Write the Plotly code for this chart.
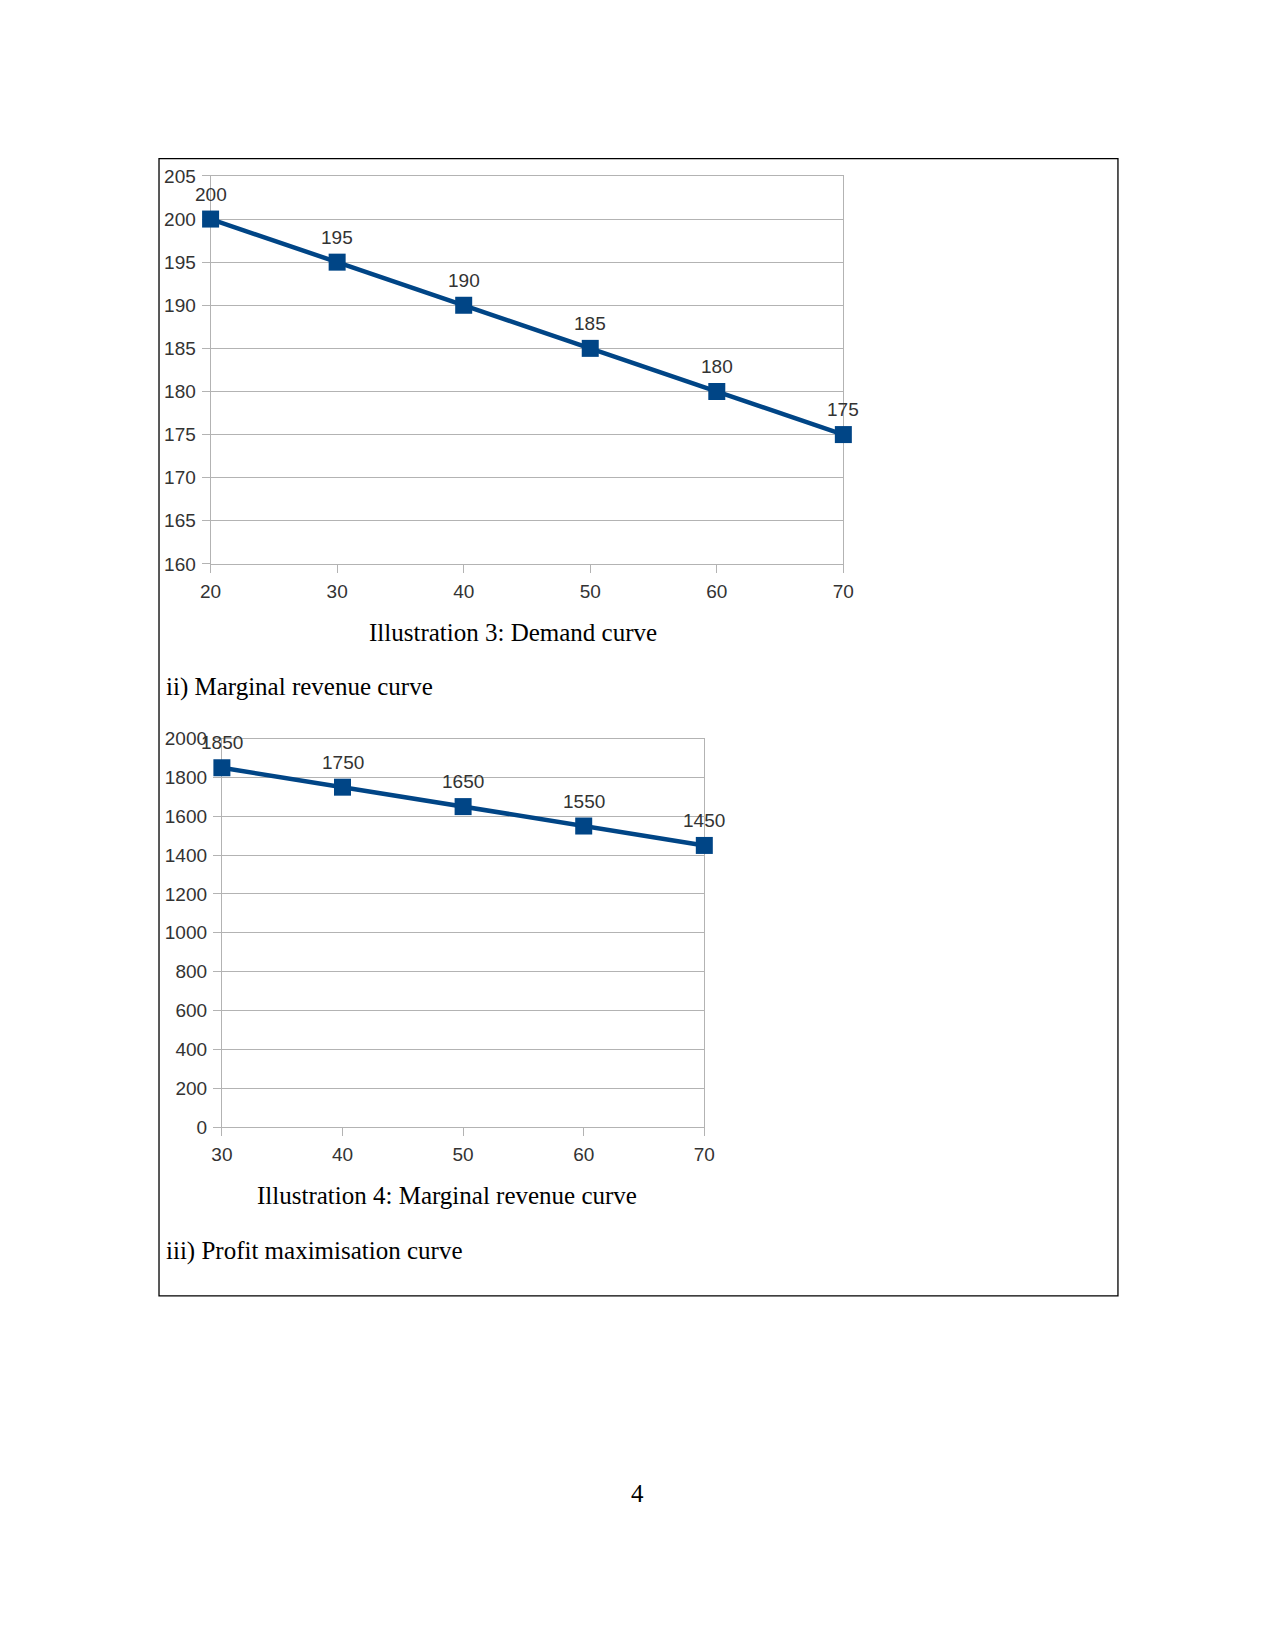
import plotly.graph_objects as go

# Page is 1275x1650; the HTML body keeps an 8px margin, so the figure is
# sized to fit inside it and page coordinates are shifted by that margin.
PAGE_W, PAGE_H = 1275, 1650
OFF = 8
W, H = PAGE_W - 2 * OFF, PAGE_H - 2 * OFF

# Data
demand_qty = [20, 30, 40, 50, 60, 70]
demand_price = [200, 195, 190, 185, 180, 175]
mr_qty = [30, 40, 50, 60, 70]
mr_value = [1850, 1750, 1650, 1550, 1450]

demand_caption = "Illustration 3: Demand curve"
mr_heading = "ii) Marginal revenue curve"
mr_caption = "Illustration 4: Marginal revenue curve"
profit_heading = "iii) Profit maximisation curve"
page_number = "4"

BLUE = "#004586"
GRID = "#b3b3b3"
TICK_COL = "#333333"
SANS = "Liberation Sans, Arial, sans-serif"
SERIF = "Liberation Serif, Times New Roman, serif"


def px_x(p):
    return (p - OFF) / W


def px_y(p):
    return 1 - (p - OFF) / H


fig = go.Figure()

for xs, ys, xa, ya in [(demand_qty, demand_price, "x", "y"),
                       (mr_qty, mr_value, "x2", "y2")]:
    fig.add_trace(go.Scatter(
        x=xs, y=ys, mode="lines+markers",
        line=dict(color=BLUE, width=4.5),
        marker=dict(symbol="square", size=17, color=BLUE),
        cliponaxis=False, xaxis=xa, yaxis=ya, showlegend=False,
    ))
    for xv, yv in zip(xs, ys):
        fig.add_annotation(
            x=xv, y=yv, xref=xa, yref=ya, text=str(yv), showarrow=False,
            xanchor="center", yanchor="middle", yshift=25,
            font=dict(family=SANS, size=19, color=TICK_COL),
        )

axis_common = dict(
    gridcolor=GRID, gridwidth=1,
    showline=True, linecolor=GRID, linewidth=1, mirror=True,
    ticks="outside", tickcolor=GRID, ticklen=8, tickwidth=1,
    ticklabelstandoff=2, layer="below traces",
    zeroline=False, tickfont=dict(family=SANS, size=19, color=TICK_COL),
    fixedrange=True,
)

fig.update_layout(
    width=W, height=H,
    margin=dict(l=0, r=0, t=0, b=0),
    paper_bgcolor="white", plot_bgcolor="white",
    xaxis=dict(domain=[px_x(203), px_x(847)], range=[20, 70], dtick=10,
               anchor="y", showgrid=False, **axis_common),
    yaxis=dict(domain=[px_y(561), px_y(168)], range=[160, 205], dtick=5,
               anchor="x", showgrid=True, **axis_common),
    xaxis2=dict(domain=[px_x(214.5), px_x(705.5)], range=[30, 70], dtick=10,
                anchor="y2", showgrid=False, **axis_common),
    yaxis2=dict(domain=[px_y(1131.5), px_y(738)], range=[0, 2000], dtick=200,
                anchor="x2", showgrid=True, **axis_common),
)

# Page border
fig.add_shape(type="rect", xref="paper", yref="paper",
              x0=px_x(150.5), x1=px_x(1126.5), y0=px_y(1302.5), y1=px_y(150.5),
              line=dict(color="black", width=1.3), layer="below")


def text(s, x, y, xanchor="center", size=25):
    fig.add_annotation(text=s, xref="paper", yref="paper", x=px_x(x), y=px_y(y),
                       xanchor=xanchor, yanchor="middle", showarrow=False,
                       font=dict(family=SERIF, size=size, color="black"))


text(demand_caption, 511, 631)
text(mr_heading, 156, 686, xanchor="left")
text(mr_caption, 444, 1201)
text(profit_heading, 156, 1257, xanchor="left")
text(page_number, 637, 1503)

fig.write_html("out.html")
